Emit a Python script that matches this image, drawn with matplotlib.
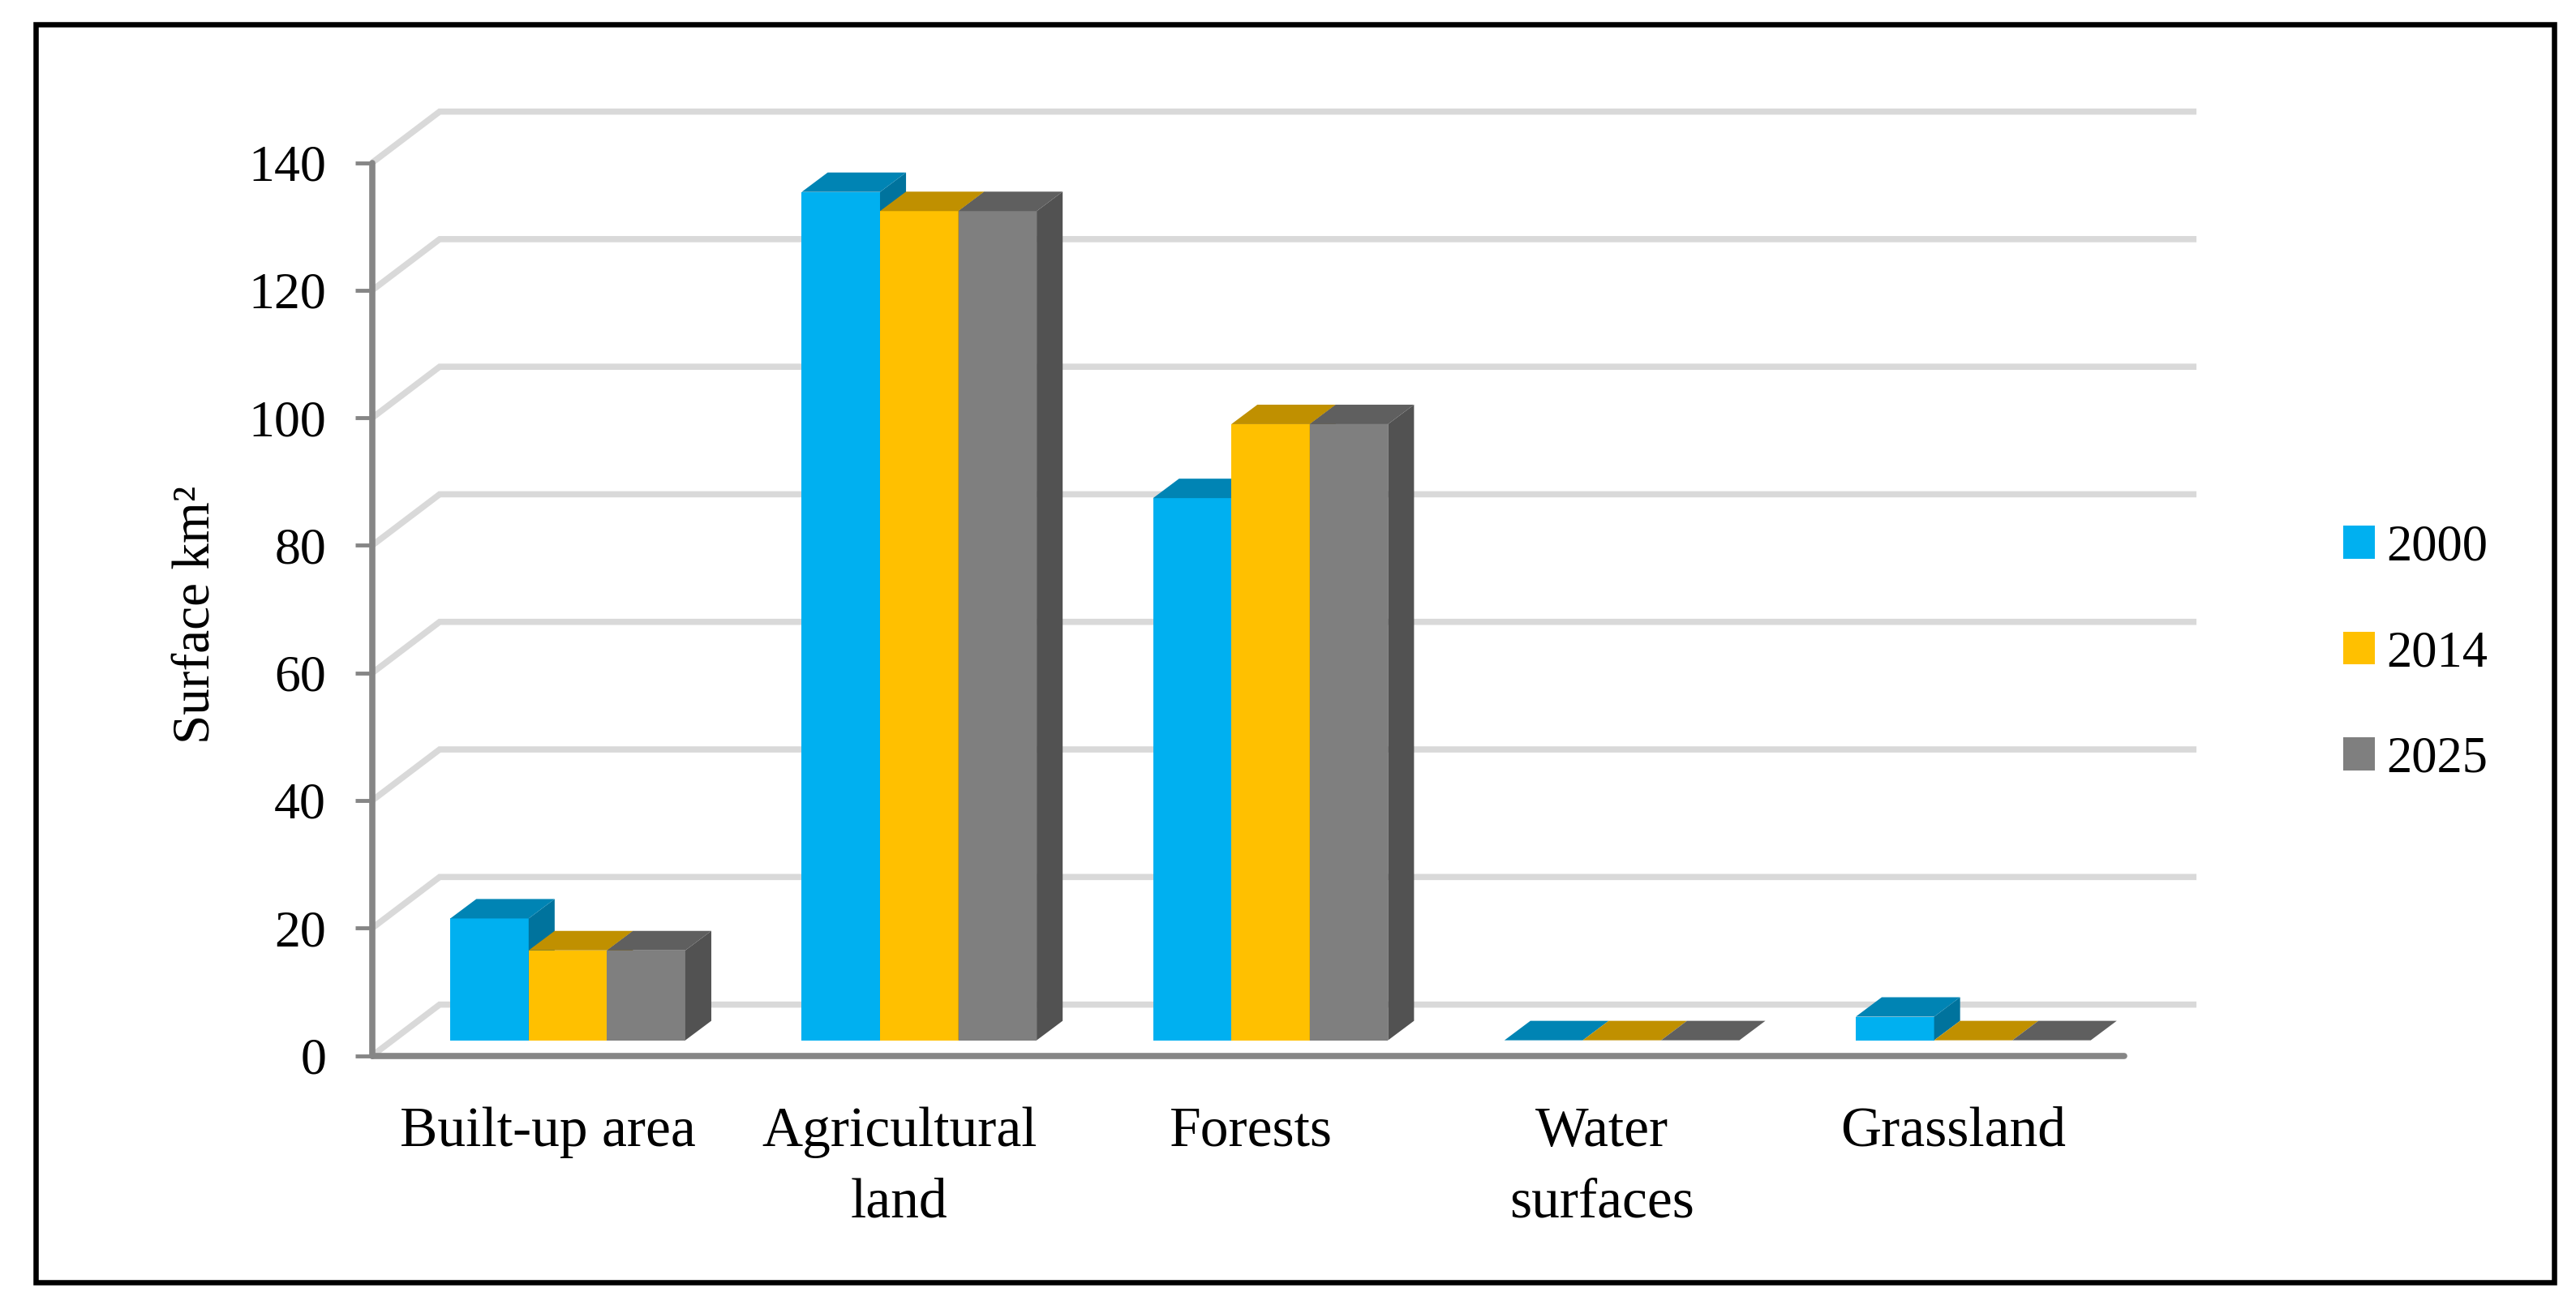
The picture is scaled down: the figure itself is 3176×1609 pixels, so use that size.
import numpy as np
import matplotlib
matplotlib.use("Agg")
import matplotlib.pyplot as plt
from matplotlib.patches import Rectangle

categories = ["Built-up area", "Agricultural\nland", "Forests", "Water\nsurfaces", "Grassland"]
years = ["2000", "2014", "2025"]
values_2000 = [19.1, 133, 85, 0, 3.7]
values_2014 = [14.1, 130, 96.6, 0, 0]
values_2025 = [14.1, 130, 96.6, 0, 0]
yticks = [0, 20, 40, 60, 80, 100, 120, 140]

front_colors = ["#00B0F0", "#FFC000", "#7F7F7F"]
top_colors = ["#0084B4", "#C09000", "#5F5F5F"]
side_colors = ["#00739D", "#A67C00", "#525252"]

plt.rcParams["font.family"] = ["Liberation Serif", "DejaVu Serif"]
W, H = 3176, 1609
fig = plt.figure(figsize=(W / 100, H / 100), dpi=100)
ax = fig.add_axes([459 / W, 1 - 1301.5 / H, 2166 / W, 1101 / H])
ax.patch.set_visible(False)
ax.set_xlim(-0.5, 4.5)
ax.set_ylim(0, 140)

# fake 3d: how far the back wall sits from the front, in data units
depth_x = 0.1917
depth_y = 8.0
# bars stand a bit inside the floor
bar_dx = 0.0565
bar_dy = 2.4
cap_dx = 0.074
cap_dy = 3.05
bar_w = 0.2229

for v in yticks:
    ax.plot([-0.5, -0.5 + depth_x, 4.5 + depth_x], [v, v + depth_y, v + depth_y],
            color="#D9D9D9", lw=5.5, clip_on=False, zorder=1,
            solid_joinstyle="miter", solid_capstyle="butt")

x = np.arange(len(categories))
series = [values_2000, values_2014, values_2025]
handles = []
for i, vals in enumerate(series):
    bars = ax.bar(x + (i - 1) * bar_w + bar_dx, vals, bar_w, bottom=bar_dy,
                  color=front_colors[i], label=years[i], zorder=3 + i, clip_on=False)
    handles.append(bars)
    for r in bars:
        x0 = r.get_x()
        x1 = x0 + r.get_width()
        y0 = r.get_y()
        y1 = y0 + r.get_height()
        ax.fill([x1, x1 + cap_dx, x1 + cap_dx, x1],
                [y0, y0 + cap_dy, y1 + cap_dy, y1],
                color=side_colors[i], lw=0, zorder=3 + i, clip_on=False)
        ax.fill([x0, x0 + cap_dx, x1 + cap_dx, x1],
                [y1, y1 + cap_dy, y1 + cap_dy, y1],
                color=top_colors[i], lw=0, zorder=3 + i, clip_on=False)

for s in ["top", "right"]:
    ax.spines[s].set_visible(False)
for s in ["left", "bottom"]:
    ax.spines[s].set_color("#868686")
    ax.spines[s].set_linewidth(5.5)
    ax.spines[s].set_zorder(2)
    ax.spines[s].set_capstyle("round")
ax.spines["bottom"].set_bounds(-0.5, 4.485)

ax.set_yticks(yticks)
ax.set_xticks(x)
ax.set_xticklabels(categories, linespacing=1.5)
ax.tick_params(axis="y", length=15, width=3.5, color="#868686", labelsize=46, pad=26)
ax.tick_params(axis="x", length=0, labelsize=50, pad=45)

ax.set_ylabel("Surface km²", fontsize=47)
ax.yaxis.set_label_coords(-0.0859, 0.4935)

ax.legend(handles=handles, loc="center left", bbox_to_anchor=(2889 / W, 1 - 806 / H),
          bbox_transform=fig.transFigure, frameon=False, fontsize=45, ncol=1,
          handlelength=0.625, handleheight=0.625, handletextpad=0.22,
          labelspacing=1.155, borderpad=0, borderaxespad=0)

# black frame round the whole thing
fig.patches.append(Rectangle((44 / W, 1 - 1581 / H), 3104.5 / W, 1551.5 / H, transform=fig.transFigure,
                             fill=False, ec="black", lw=4.7, figure=fig))

fig.savefig("out.png", dpi=100, facecolor="white")
